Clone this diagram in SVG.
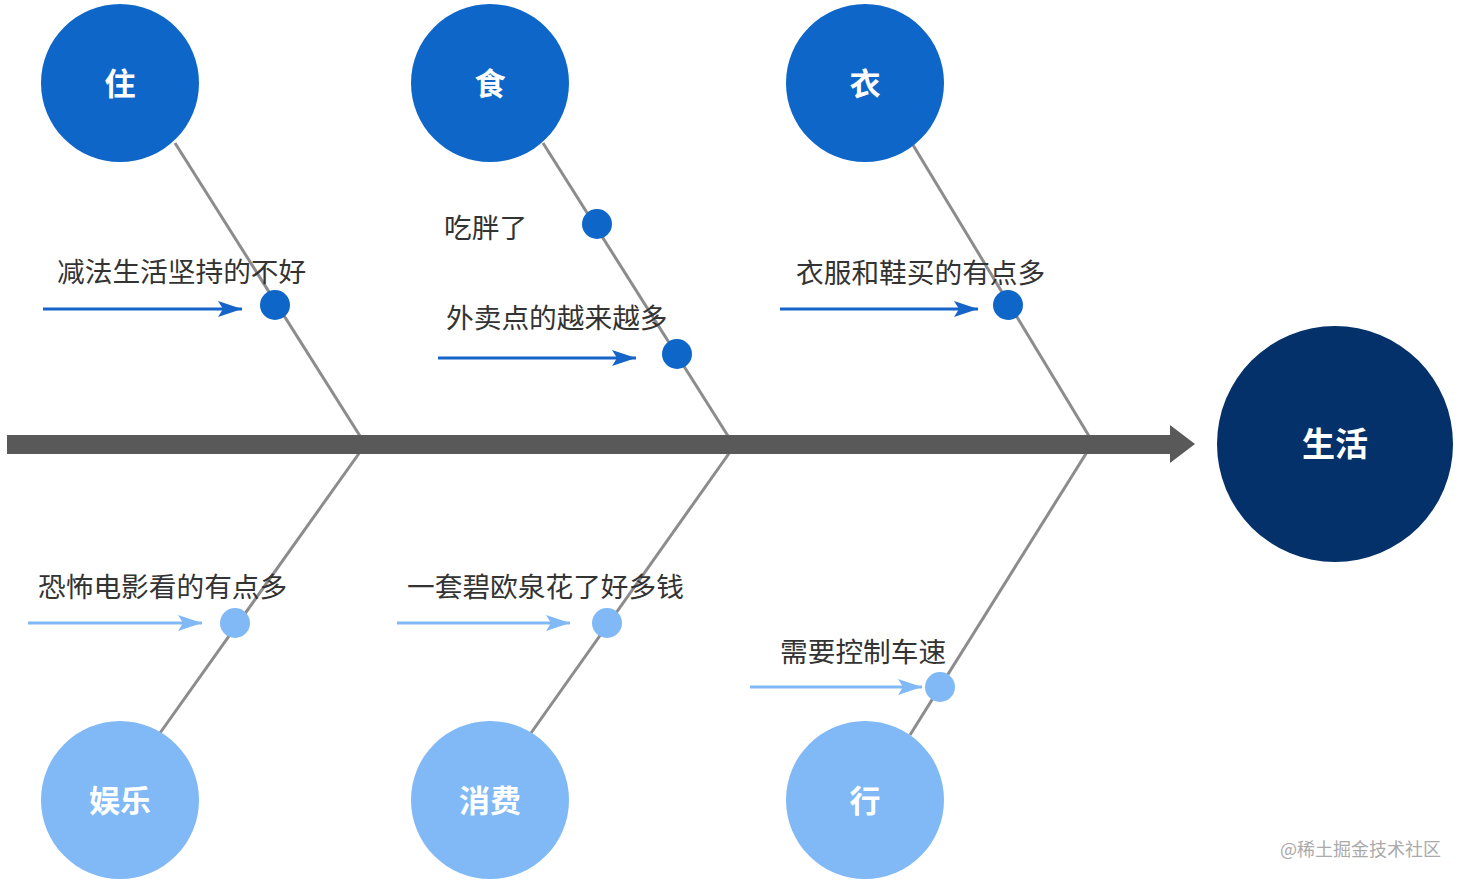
<svg xmlns="http://www.w3.org/2000/svg" width="1465" height="884" viewBox="0 0 1465 884">
<defs>
<style>
.bone{stroke:#8c8c8c;stroke-width:3;fill:none}
.lbl{font-family:"Noto Sans CJK SC","Microsoft YaHei",sans-serif;font-size:27.7px;fill:#333}
.cl{font-family:"Noto Sans CJK SC",sans-serif;font-size:31px;font-weight:bold;fill:#fff;text-anchor:middle;dominant-baseline:central}
.dk{fill:#0e66c8}
.lt{fill:#80b9f5}
.adk{stroke:#1565c8;stroke-width:3;fill:none;marker-end:url(#hdk)}
.alt{stroke:#80b9f5;stroke-width:3;fill:none;marker-end:url(#hlt)}
</style>
<marker id="hdk" viewBox="0 0 24 16" refX="24" refY="8" markerWidth="24" markerHeight="16" markerUnits="userSpaceOnUse" orient="auto"><path d="M0,0 L24,8 L0,16 L5,8 Z" fill="#1565c8"/></marker>
<marker id="hlt" viewBox="0 0 24 16" refX="24" refY="8" markerWidth="24" markerHeight="16" markerUnits="userSpaceOnUse" orient="auto"><path d="M0,0 L24,8 L0,16 L5,8 Z" fill="#80b9f5"/></marker>
</defs>
<rect width="1465" height="884" fill="#fff"/>
<g id="connectors">
<line class="bone" x1="175" y1="143" x2="360" y2="436"/>
<line class="bone" x1="543" y1="143" x2="728" y2="436"/>
<line class="bone" x1="913" y1="145" x2="1089" y2="436"/>
<line class="bone" x1="360" y1="452" x2="160" y2="733"/>
<line class="bone" x1="730" y1="452" x2="531" y2="733"/>
<line class="bone" x1="1087" y1="452" x2="910" y2="735"/>
<path d="M7,435 H1170 V425 L1195,444 L1170,463 V454 H7 Z" fill="#595959"/>
<line class="adk" x1="43" y1="309" x2="242" y2="309"/>
<line class="adk" x1="438" y1="358" x2="636" y2="358"/>
<line class="adk" x1="780" y1="309" x2="978" y2="309"/>
<line class="alt" x1="28" y1="623" x2="202" y2="623"/>
<line class="alt" x1="397" y1="623" x2="570" y2="623"/>
<line class="alt" x1="750" y1="687" x2="922" y2="687"/>
</g>
<g id="node-zhu"><circle class="dk" cx="120" cy="83" r="79"/><text class="cl" x="120" y="81">住</text></g>
<g id="node-shi"><circle class="dk" cx="490" cy="83" r="79"/><text class="cl" x="490" y="81">食</text></g>
<g id="node-yi"><circle class="dk" cx="865" cy="83" r="79"/><text class="cl" x="865" y="81">衣</text></g>
<g id="node-yule"><circle class="lt" cx="120" cy="800" r="79"/><text class="cl" x="120" y="798">娱乐</text></g>
<g id="node-xiaofei"><circle class="lt" cx="490" cy="800" r="79"/><text class="cl" x="490" y="798">消费</text></g>
<g id="node-xing"><circle class="lt" cx="865" cy="800" r="79"/><text class="cl" x="865" y="798">行</text></g>
<g id="node-shenghuo"><circle cx="1335" cy="444" r="118" fill="#04316a"/><text class="cl" x="1335" y="442" style="font-size:33px">生活</text></g>
<g id="cause-1"><circle class="dk" cx="275" cy="305" r="15"/><text class="lbl" x="57" y="282">减法生活坚持的不好</text></g>
<g id="cause-2"><circle class="dk" cx="597" cy="224" r="15"/><text class="lbl" x="444" y="238">吃胖了</text></g>
<g id="cause-3"><circle class="dk" cx="677" cy="354" r="15"/><text class="lbl" x="446" y="328">外卖点的越来越多</text></g>
<g id="cause-4"><circle class="dk" cx="1008" cy="305" r="15"/><text class="lbl" x="796" y="283">衣服和鞋买的有点多</text></g>
<g id="cause-5"><circle class="lt" cx="235" cy="623" r="15"/><text class="lbl" x="38" y="597">恐怖电影看的有点多</text></g>
<g id="cause-6"><circle class="lt" cx="607" cy="623" r="15"/><text class="lbl" x="407" y="597">一套碧欧泉花了好多钱</text></g>
<g id="cause-7"><circle class="lt" cx="940" cy="687" r="15"/><text class="lbl" x="780" y="662">需要控制车速</text></g>
<text x="1280" y="856" style="font-family:'Noto Sans CJK SC',sans-serif;font-size:18px;fill:#aaa">@稀土掘金技术社区</text>
</svg>
